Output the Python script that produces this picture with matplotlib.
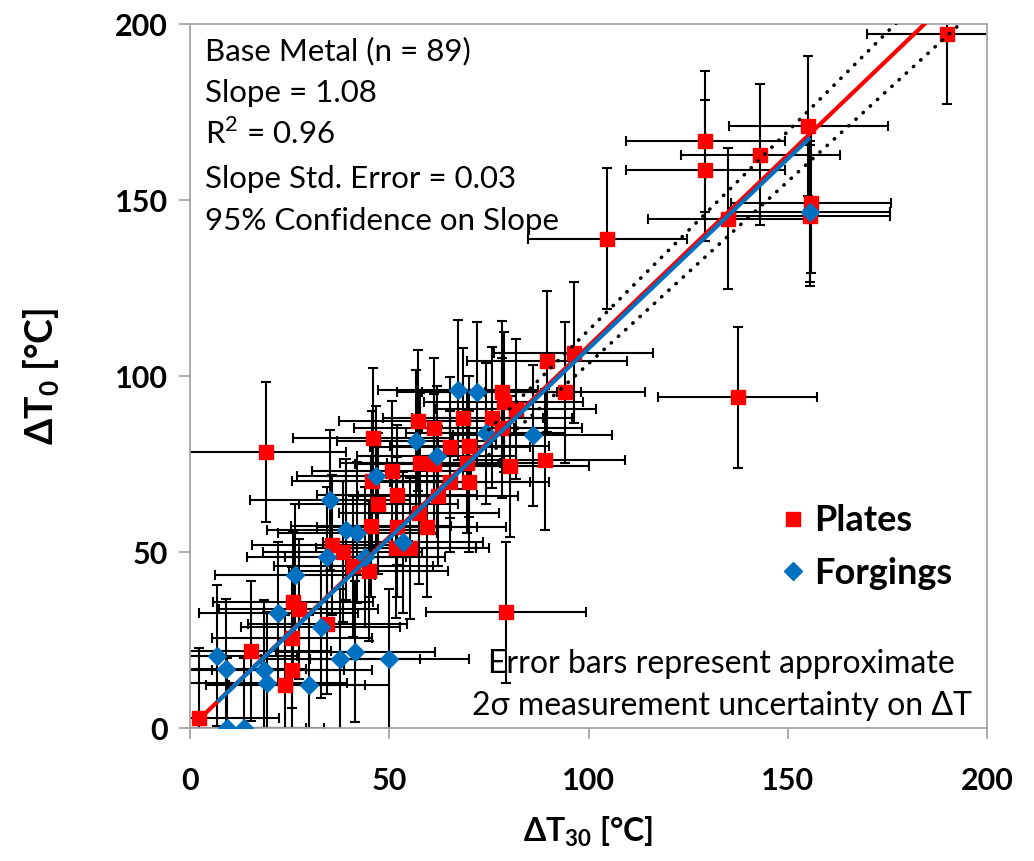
import matplotlib
matplotlib.use("Agg")
import matplotlib.pyplot as plt
from matplotlib.lines import Line2D
import numpy as np

plt.rcParams['font.family'] = ['Lato', 'DejaVu Sans']
plt.rcParams['mathtext.fontset'] = 'custom'
plt.rcParams['mathtext.rm'] = 'Lato'
plt.rcParams['mathtext.bf'] = 'Lato:bold'

# ---- data ----
plates_x = [2.3, 15.4, 19.1, 23.9, 25.6, 25.6, 25.8, 27.3, 34.5, 35.6,
            38.3, 41.0, 44.8, 45.4, 45.6, 45.8, 47.3, 50.6, 51.7, 51.9,
            51.9, 55.1, 57.3, 57.5, 57.7, 59.4, 61.2, 61.3, 62.2, 65.2,
            65.3, 68.5, 69.4, 70.1, 70.1, 75.8, 78.2, 78.7, 78.3, 79.3,
            80.2, 81.8, 89.1, 89.6, 94.1, 96.3, 104.7, 129.3, 129.3, 134.9,
            137.4, 143.1, 155.2, 155.8, 155.6, 190.0]
plates_y = [2.8, 21.9, 78.4, 12.1, 16.6, 25.6, 35.7, 33.8, 29.6, 52.0,
            50.1, 45.9, 44.6, 57.3, 70.1, 82.4, 63.7, 72.9, 51.2, 57.1,
            66.2, 51.1, 87.3, 61.0, 75.3, 57.2, 85.2, 75.0, 65.9, 79.7,
            70.0, 88.0, 75.4, 80.0, 70.0, 88.2, 95.5, 92.6, 85.2, 32.9,
            74.3, 90.6, 76.2, 104.2, 95.4, 106.6, 139.0, 166.7, 158.4, 144.7,
            94.0, 162.9, 171.0, 149.2, 145.5, 197.3]

forgings_x = [6.9, 9.0, 9.2, 13.6, 18.6, 19.4, 22.2, 26.3, 29.9, 32.8,
              34.3, 35.1, 37.7, 39.2, 41.5, 42.0, 43.9, 46.8, 50.0, 53.5,
              56.8, 61.9, 67.3, 72.0, 74.2, 86.0, 155.6]
forgings_y = [20.5, 16.7, 0.0, 0.0, 16.5, 12.9, 32.8, 43.5, 12.2, 28.6,
              48.5, 64.8, 19.5, 56.3, 21.7, 55.5, 48.6, 71.6, 19.5, 52.8,
              81.6, 77.3, 96.0, 95.4, 83.7, 83.2, 146.7]

err_2sigma = 20          # approximate 2-sigma error bar on both axes
slope_plates = 1.085     # red fit line
slope_forgings = 1.078   # blue fit line
conf_slopes = [1.13, 1.035]   # dotted 95% confidence lines
conf_start = 75

stats_lines = ['Base Metal (n = 89)', 'Slope = 1.08', 'R$^2$ = 0.96',
               'Slope Std. Error = 0.03', '95% Confidence on Slope']

red = '#FF0000'
blue = '#0070C0'
gray = '#A6A6A6'

fig = plt.figure(figsize=(10.34, 8.61), dpi=100)
ax = fig.add_axes([190 / 1034, 133 / 861, 797 / 1034, 704 / 861])

# error bars
for xs, ys in [(plates_x, plates_y), (forgings_x, forgings_y)]:
    ax.errorbar(xs, ys, xerr=err_2sigma, yerr=err_2sigma, fmt='none',
                ecolor='black', elinewidth=1.5, capsize=3.5, capthick=1.5,
                zorder=2, clip_on=True)

# markers
ax.plot(plates_x, plates_y, 's', color=red, markersize=10, zorder=3)
ax.plot(forgings_x, forgings_y, 'D', color=blue, markersize=9.5, zorder=3)

# fit lines
xr = np.array([min(plates_x), max(plates_x)])
ax.plot(xr, slope_plates * xr, color=red, lw=3, zorder=4, solid_capstyle='butt')
xb = np.array([min(forgings_x), max(forgings_x)])
ax.plot(xb, slope_forgings * xb, color=blue, lw=3, zorder=5, solid_capstyle='butt')

# confidence lines
for s in conf_slopes:
    xc = np.array([conf_start, 200])
    ax.plot(xc, s * xc, color='black', lw=2.6, linestyle=(0, (0.1, 2.6)),
            dash_capstyle='round', zorder=4)

ax.set_xlim(0, 200)
ax.set_ylim(0, 200)
ax.set_xticks([0, 50, 100, 150, 200])
ax.set_yticks([0, 50, 100, 150, 200])
ax.tick_params(direction='out', length=8, width=1.3, color=gray, pad=8,
               labelsize=22)
ax.tick_params(axis='x', pad=20)
for lab in ax.get_xticklabels() + ax.get_yticklabels():
    lab.set_fontweight('bold')
for sp in ax.spines.values():
    sp.set_color(gray)
    sp.set_linewidth(1.3)

ax.set_xlabel(r'ΔT$_{\mathbf{30}}$ [°C]', fontsize=23, fontweight='bold', labelpad=14)
ax.set_ylabel(r'ΔT$_{\mathbf{0}}$ [°C]', fontsize=27, fontweight='bold', labelpad=38)

# statistics block
baselines = [0.948, 0.8886, 0.8294, 0.7669, 0.7078]
for txt, yb in zip(stats_lines, baselines):
    ax.text(0.019, yb, txt, transform=ax.transAxes, fontsize=22.5,
            va='baseline', ha='left', zorder=6)

# note on error bars
ax.text(0.667, 0.078, 'Error bars represent approximate', transform=ax.transAxes,
        fontsize=23, ha='center', va='baseline', zorder=6)
ax.text(0.667, 0.0185, '2σ measurement uncertainty on ΔT', transform=ax.transAxes,
        fontsize=23, ha='center', va='baseline', zorder=6)

handles = [Line2D([], [], marker='s', color=red, linestyle='none', markersize=10),
           Line2D([], [], marker='D', color=blue, linestyle='none', markersize=9.5)]
ax.legend(handles, ['Plates', 'Forgings'], loc='center left',
          bbox_to_anchor=(0.695, 0.257), frameon=False,
          prop={'size': 26, 'weight': 'bold'}, handletextpad=0.15,
          labelspacing=0.55, handlelength=0.9)

fig.savefig('out.png', dpi=100)
